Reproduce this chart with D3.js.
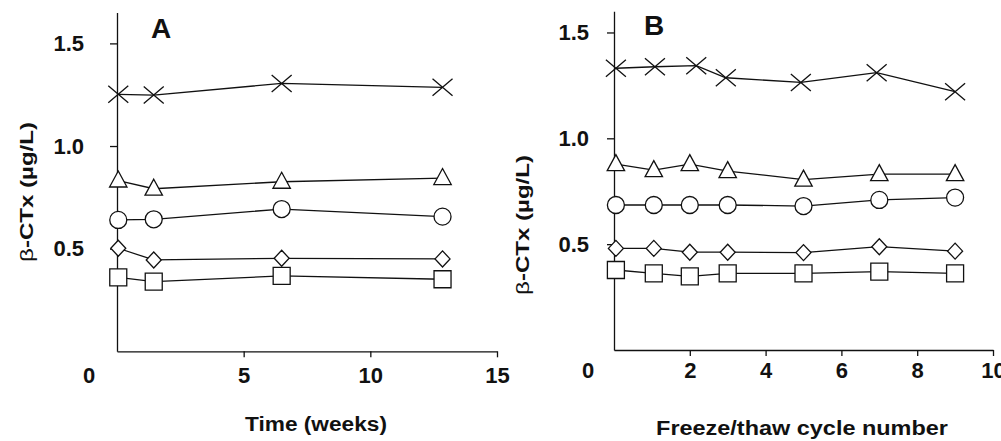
<!DOCTYPE html>
<html>
<head>
<meta charset="utf-8">
<script src="https://cdn.jsdelivr.net/npm/d3@7"></script>
<style>
  body { margin: 0; background: #fff; }
  text { font-family: "Liberation Sans", Arial, sans-serif; fill: #111; }
</style>
</head>
<body>
<div id="chart"></div>
<script>
// panel A: storage time (weeks)
const weeks = [0.05, 1.45, 6.5, 12.85];
const aCross    = [1.252, 1.248, 1.305, 1.286];
const aTriangle = [0.832, 0.792, 0.826, 0.844];
const aCircle   = [0.640, 0.643, 0.693, 0.656];
const aDiamond  = [0.502, 0.445, 0.453, 0.450];
const aSquare   = [0.360, 0.339, 0.367, 0.351];

// panel B: freeze/thaw cycles
const cycles      = [0.05, 1.05, 2, 3, 5, 7, 9];
const cyclesCross = [0.05, 1.08, 2.17, 2.95, 4.93, 6.93, 9];
const bCross    = [1.331, 1.338, 1.343, 1.286, 1.264, 1.310, 1.220];
const bTriangle = [0.878, 0.850, 0.878, 0.845, 0.805, 0.831, 0.831];
const bCircle   = [0.685, 0.685, 0.685, 0.685, 0.680, 0.709, 0.720];
const bDiamond  = [0.480, 0.480, 0.462, 0.462, 0.460, 0.488, 0.467];
const bSquare   = [0.378, 0.362, 0.348, 0.362, 0.362, 0.370, 0.362];

const xTicksA = [5, 10, 15];
const xTicksB = [2, 4, 6, 8, 10];
const yTicks = [0.5, 1.0, 1.5];

const width = 1001, height = 441;

const svg = d3.select("#chart")
  .append("svg")
  .attr("width", width)
  .attr("height", height);

// marker shapes, centred on 0,0
const shapes = {
  cross: "M-10,-8.5L10,8.5M-10,8.5L10,-8.5",
  triangle: "M0,-9.5L8.7,6.5L-8.7,6.5Z",
  diamond: "M0,-8L7.5,0L0,8L-7.5,0Z",
  square: "M-8.5,-8.5H8.5V8.5H-8.5Z"
};

// stretch a text horizontally (along its baseline) to a target length
function stretch(t, x, y, rot, len) {
  const w = t.node().getComputedTextLength();
  t.attr("transform", "translate(" + x + "," + y + ") rotate(" + rot + ") scale(" + (len / w) + ",1)");
}

function drawPanel(opt) {
  const x = d3.scaleLinear().domain(opt.xDomain).range(opt.xRange);
  const y = d3.scaleLinear().domain([0, opt.yTop]).range(opt.yRange);
  const g = svg.append("g");

  // y axis
  g.append("g")
    .attr("transform", "translate(" + opt.xRange[0] + ",0)")
    .call(d3.axisLeft(y).tickValues(yTicks).tickSize(7).tickSizeOuter(0)
      .tickPadding(opt.yPad).tickFormat(d3.format(".1f")));

  // x axis
  g.append("g")
    .attr("transform", "translate(0," + opt.yRange[0] + ")")
    .call(d3.axisBottom(x).tickValues(opt.xTicks).tickSize(6).tickSizeOuter(0)
      .tickPadding(opt.xPad).tickFormat(d3.format("d")));

  g.selectAll(".domain, .tick line").attr("stroke", "#111").attr("stroke-width", 1.3);
  g.selectAll(".tick text")
    .attr("fill", "#111")
    .style("font-family", "'Liberation Sans', Arial, sans-serif")
    .style("font-size", "22px")
    .style("font-weight", "bold");

  // origin label
  g.append("text")
    .attr("x", opt.zeroX)
    .attr("y", opt.zeroY)
    .attr("text-anchor", "middle")
    .style("font-size", "22px")
    .style("font-weight", "bold")
    .text("0");

  // series
  opt.series.forEach(s => {
    const pts = s.values.map((v, i) => ({ x: s.xs[i], y: v }));
    g.append("path")
      .datum(pts)
      .attr("fill", "none")
      .attr("stroke", "#111")
      .attr("stroke-width", 1.3)
      .attr("d", d3.line().x(d => x(d.x)).y(d => y(d.y)));

    const m = g.selectAll(null)
      .data(pts)
      .join(s.shape === "circle" ? "circle" : "path")
      .attr("fill", "#fff")
      .attr("stroke", "#111")
      .attr("stroke-width", 1.3);
    if (s.shape === "circle") {
      m.attr("cx", d => x(d.x)).attr("cy", d => y(d.y)).attr("r", 8.5);
    } else {
      m.attr("d", shapes[s.shape])
        .attr("transform", d => "translate(" + x(d.x) + "," + y(d.y) + ")");
    }
  });

  // panel letter
  g.append("text")
    .attr("x", opt.letterX)
    .attr("y", opt.letterY)
    .style("font-size", "28px")
    .style("font-weight", "bold")
    .text(opt.letter);

  // y title
  const yt = g.append("text")
    .attr("text-anchor", "middle")
    .style("font-size", "19px");
  yt.append("tspan").text("β");
  yt.append("tspan").style("font-weight", "bold").text("-CTx (µg/L)");
  stretch(yt, opt.yTitleX, opt.yTitleY, -90, 140);

  // x title
  const xt = g.append("text")
    .attr("text-anchor", "middle")
    .style("font-size", "21px")
    .style("font-weight", "bold")
    .text(opt.xTitle);
  stretch(xt, opt.xTitleX, opt.xTitleY, 0, opt.xTitleLen);
}

drawPanel({
  xDomain: [0, 15], xRange: [117, 497],
  yTop: 1.65, yRange: [351.3, 12.6],
  xTicks: xTicksA, yPad: 26, xPad: 10,
  zeroX: 89, zeroY: 383,
  letter: "A", letterX: 151, letterY: 38,
  yTitleX: 33, yTitleY: 192,
  xTitle: "Time (weeks)", xTitleX: 316, xTitleY: 431, xTitleLen: 142,
  series: [
    { shape: "cross", xs: weeks, values: aCross },
    { shape: "triangle", xs: weeks, values: aTriangle },
    { shape: "circle", xs: weeks, values: aCircle },
    { shape: "diamond", xs: weeks, values: aDiamond },
    { shape: "square", xs: weeks, values: aSquare }
  ]
});

drawPanel({
  xDomain: [0, 10], xRange: [614, 993],
  yTop: 1.6, yRange: [350, 11.3],
  xTicks: xTicksB, yPad: 18, xPad: 6.5,
  zeroX: 588, zeroY: 378,
  letter: "B", letterX: 644, letterY: 35,
  yTitleX: 529, yTitleY: 225,
  xTitle: "Freeze/thaw cycle number", xTitleX: 802, xTitleY: 435, xTitleLen: 292,
  series: [
    { shape: "cross", xs: cyclesCross, values: bCross },
    { shape: "triangle", xs: cycles, values: bTriangle },
    { shape: "circle", xs: cycles, values: bCircle },
    { shape: "diamond", xs: cycles, values: bDiamond },
    { shape: "square", xs: cycles, values: bSquare }
  ]
});
</script>
</body>
</html>
